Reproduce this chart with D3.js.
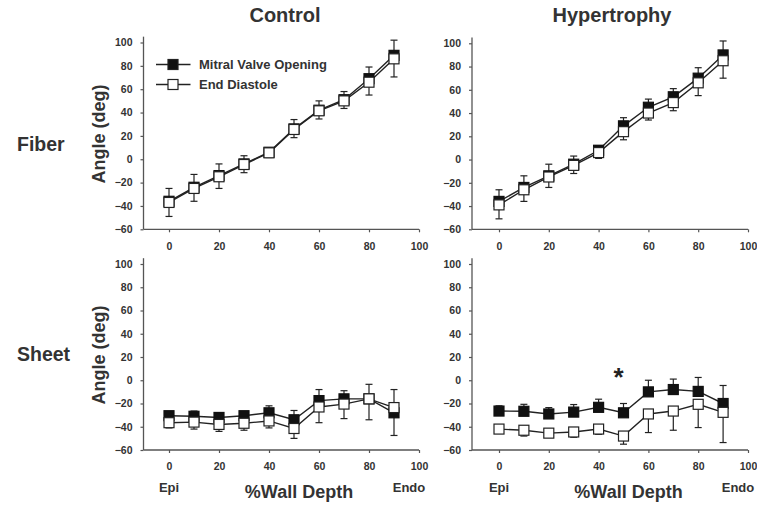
<!DOCTYPE html>
<html>
<head>
<meta charset="utf-8">
<script src="https://cdn.jsdelivr.net/npm/d3@7"></script>
<style>
  html, body { margin: 0; padding: 0; background: #fff; }
  svg { display: block; }
  text { font-family: "Liberation Sans", Arial, sans-serif; font-weight: bold; }
</style>
</head>
<body>
<svg id="chart" width="757" height="508"></svg>
<script>
// ---------------- DATA ----------------
const depth = [0, 10, 20, 30, 40, 50, 60, 70, 80, 90];
const xTicks = [0, 20, 40, 60, 80, 100];
const yTicks = [-60, -40, -20, 0, 20, 40, 60, 80, 100];
const seriesNames = ["Mitral Valve Opening", "End Diastole"];
const columnTitles = ["Control", "Hypertrophy"];
const rowTitles = ["Fiber", "Sheet"];

// Fiber – Control
const fiberControlMVO    = [-36, -24, -14, -4, 6, 26, 42, 51, 69, 89];
const fiberControlMVOErr = [11, 11, 10, 7, 4, 8, 8, 7, 10, 13];
const fiberControlED     = [-37, -25, -15, -4.5, 5.5, 25.5, 41.5, 50, 66, 86];
const fiberControlEDErr  = [12, 11, 10, 7, 4, 7, 7, 6.5, 11, 15.5];

// Fiber – Hypertrophy
const fiberHyperMVO    = [-36, -24, -14, -4, 8, 29, 45, 54, 70, 90];
const fiberHyperMVOErr = [10, 10, 10, 7, 4, 7, 7, 7, 9, 12];
const fiberHyperED     = [-39, -26, -15, -5, 6, 24, 40, 49, 66, 85];
const fiberHyperEDErr  = [12, 10, 9, 7, 5, 7, 6, 7, 11, 15];

// Sheet – Control
const sheetControlMVO    = [-30.5, -31, -32, -30.5, -28, -34, -17.5, -16, -16, -28];
const sheetControlMVOErr = [2, 4.5, 3, 3.5, 6, 8, 9.5, 7, 12.5, 20];
const sheetControlED     = [-36.5, -36, -38, -37, -35, -41.5, -23, -20.5, -16, -23.5];
const sheetControlEDErr  = [4.5, 6, 6, 6, 6, 8.5, 13.5, 12.5, 18, 24];

// Sheet – Hypertrophy
const sheetHyperMVO    = [-26.5, -26.7, -29, -27.4, -23.3, -28, -10, -8, -9.6, -20];
const sheetHyperMVOErr = [4.5, 6, 5.5, 6.5, 7, 8, 10, 9, 12, 15.5];
const sheetHyperED     = [-42, -43, -45.5, -44.5, -42, -48, -29, -26.5, -20.7, -27.6];
const sheetHyperEDErr  = [3.5, 5, 3, 4.5, 4.5, 7, 16, 16.5, 20, 26];

// significance marker
const starDepth = 48;
const starValue = 9;

// ---------------- LAYOUT ----------------
const svg = d3.select("#chart");
const FONT = '"Liberation Sans", Arial, sans-serif';
const INK = "#222";
const AXIS = "#555";

const panels = [
  { x0: 169, x100: 419, axisX: 143.5, yBot: 229.3, yTop100: 42.5,
    mvo: fiberControlMVO, mvoErr: fiberControlMVOErr, ed: fiberControlED, edErr: fiberControlEDErr,
    yLabel: true, legend: true, bottomLabels: false },
  { x0: 499, x100: 748, axisX: 472, yBot: 229.3, yTop100: 43.3,
    mvo: fiberHyperMVO, mvoErr: fiberHyperMVOErr, ed: fiberHyperED, edErr: fiberHyperEDErr,
    yLabel: false, legend: false, bottomLabels: false },
  { x0: 169, x100: 419, axisX: 143.5, yBot: 450, yTop100: 264,
    mvo: sheetControlMVO, mvoErr: sheetControlMVOErr, ed: sheetControlED, edErr: sheetControlEDErr,
    yLabel: true, legend: false, bottomLabels: true },
  { x0: 499, x100: 748, axisX: 472, yBot: 450, yTop100: 264,
    mvo: sheetHyperMVO, mvoErr: sheetHyperMVOErr, ed: sheetHyperED, edErr: sheetHyperEDErr,
    yLabel: false, legend: false, bottomLabels: true, star: true }
];

const MS = 10;   // marker size
const CAP = 3.5; // half cap width

panels.forEach(p => {
  const x = d3.scaleLinear().domain([0, 100]).range([p.x0, p.x100]);
  const y = d3.scaleLinear().domain([-60, 100]).range([p.yBot, p.yTop100]);
  const yTopPx = y(105);
  const g = svg.append("g");

  // axes lines
  g.append("line").attr("x1", p.axisX).attr("x2", p.axisX)
    .attr("y1", yTopPx).attr("y2", p.yBot)
    .attr("stroke", AXIS).attr("stroke-width", 1.3);
  g.append("line").attr("x1", p.axisX).attr("x2", p.x100)
    .attr("y1", p.yBot).attr("y2", p.yBot)
    .attr("stroke", AXIS).attr("stroke-width", 1.3);

  // y axis ticks
  const yAx = g.append("g").attr("transform", `translate(${p.axisX},0)`)
    .call(d3.axisLeft(y).tickValues(yTicks).tickSize(3).tickPadding(8).tickSizeOuter(0));
  yAx.select(".domain").remove();
  yAx.selectAll("line").attr("stroke", AXIS).attr("stroke-width", 1.2);
  yAx.selectAll("text").attr("font-family", FONT).attr("font-weight", "bold")
    .attr("font-size", 10.5).attr("fill", "#333");

  // x axis ticks
  const xAx = g.append("g").attr("transform", `translate(0,${p.yBot})`)
    .call(d3.axisBottom(x).tickValues(xTicks).tickSize(3).tickPadding(10).tickSizeOuter(0));
  xAx.select(".domain").remove();
  xAx.selectAll("line").attr("stroke", AXIS).attr("stroke-width", 1.2);
  xAx.selectAll("text").attr("font-family", FONT).attr("font-weight", "bold")
    .attr("font-size", 10.5).attr("fill", "#333");

  const mvoPts = depth.map((d, i) => ({ d, v: p.mvo[i], e: p.mvoErr[i] }));
  const edPts = depth.map((d, i) => ({ d, v: p.ed[i], e: p.edErr[i] }));

  // error bars: MVO upward, ED downward
  const drawErr = (pts, dir) => {
    const eg = g.append("g").attr("stroke", INK).attr("stroke-width", 1.2);
    pts.forEach(pt => {
      const cx = x(pt.d), cy = y(pt.v), ey = y(pt.v + dir * pt.e);
      eg.append("line").attr("x1", cx).attr("x2", cx).attr("y1", cy).attr("y2", ey);
      eg.append("line").attr("x1", cx - CAP).attr("x2", cx + CAP).attr("y1", ey).attr("y2", ey);
    });
  };
  drawErr(mvoPts, 1);
  drawErr(edPts, -1);

  const line = d3.line().x(pt => x(pt.d)).y(pt => y(pt.v));
  g.append("path").datum(mvoPts).attr("d", line).attr("fill", "none")
    .attr("stroke", INK).attr("stroke-width", 1.4);
  g.append("path").datum(edPts).attr("d", line).attr("fill", "none")
    .attr("stroke", INK).attr("stroke-width", 1.4);

  g.append("g").selectAll("rect").data(mvoPts).join("rect")
    .attr("x", pt => x(pt.d) - MS / 2).attr("y", pt => y(pt.v) - MS / 2)
    .attr("width", MS).attr("height", MS)
    .attr("fill", "#111").attr("stroke", "#111").attr("stroke-width", 1.2);
  g.append("g").selectAll("rect").data(edPts).join("rect")
    .attr("x", pt => x(pt.d) - MS / 2).attr("y", pt => y(pt.v) - MS / 2)
    .attr("width", MS).attr("height", MS)
    .attr("fill", "#fff").attr("stroke", "#222").attr("stroke-width", 1.2);

  if (p.yLabel) {
    const cy = (yTopPx + p.yBot) / 2 + 1;
    g.append("text")
      .attr("transform", `translate(105,${cy}) rotate(-90)`)
      .attr("text-anchor", "middle")
      .attr("font-size", 18).attr("fill", "#333")
      .text("Angle (deg)");
  }

  if (p.bottomLabels) {
    g.append("text").attr("x", x(0)).attr("y", p.yBot + 42)
      .attr("text-anchor", "middle").attr("font-size", 13).attr("fill", "#333").text("Epi");
    g.append("text").attr("x", x(100) - 10).attr("y", p.yBot + 42)
      .attr("text-anchor", "middle").attr("font-size", 13).attr("fill", "#333").text("Endo");
    g.append("text").attr("x", (x(0) + x(100)) / 2 + 5).attr("y", p.yBot + 48)
      .attr("text-anchor", "middle").attr("font-size", 18).attr("fill", "#333").text("%Wall Depth");
  }

  if (p.star) {
    g.append("text").attr("x", x(starDepth)).attr("y", y(starValue) + 16)
      .attr("text-anchor", "middle").attr("font-size", 26).attr("fill", "#222").text("*");
  }

  if (p.legend) {
    const lg = g.append("g");
    const rows = [
      { name: seriesNames[0], fill: "#111", y: 64.5 },
      { name: seriesNames[1], fill: "#fff", y: 84.5 }
    ];
    rows.forEach(r => {
      lg.append("line").attr("x1", 156).attr("x2", 190.5).attr("y1", r.y).attr("y2", r.y)
        .attr("stroke", INK).attr("stroke-width", 1.3);
      lg.append("rect").attr("x", 173 - MS / 2).attr("y", r.y - MS / 2)
        .attr("width", MS).attr("height", MS)
        .attr("fill", r.fill).attr("stroke", "#222").attr("stroke-width", 1.2);
      lg.append("text").attr("x", 199).attr("y", r.y).attr("dy", "0.36em")
        .attr("font-size", 13).attr("fill", "#333").text(r.name);
    });
  }
});

// column titles
svg.append("text").attr("x", 285).attr("y", 22).attr("text-anchor", "middle")
  .attr("font-size", 20).attr("fill", "#333").text(columnTitles[0]);
svg.append("text").attr("x", 612).attr("y", 22).attr("text-anchor", "middle")
  .attr("font-size", 20).attr("fill", "#333").text(columnTitles[1]);

// row titles
svg.append("text").attr("x", 17).attr("y", 151).attr("font-size", 19.5)
  .attr("fill", "#333").text(rowTitles[0]);
svg.append("text").attr("x", 17).attr("y", 361).attr("font-size", 19.5)
  .attr("fill", "#333").text(rowTitles[1]);
</script>
</body>
</html>
